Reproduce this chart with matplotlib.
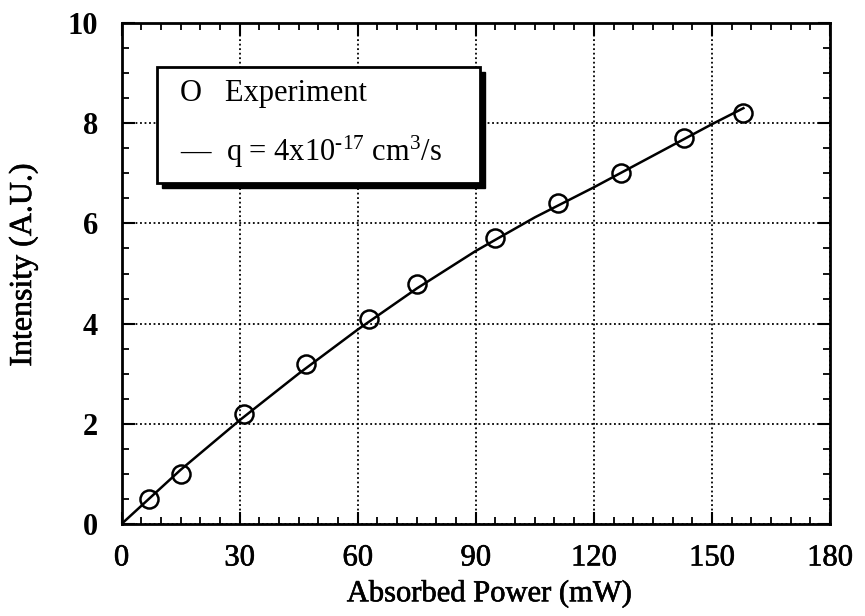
import matplotlib
matplotlib.use("Agg")
import matplotlib.pyplot as plt
import matplotlib.patheffects as pe
from matplotlib.patches import Rectangle

# Experimental data
exp_power = [7, 15, 31, 47, 63, 75, 95, 111, 127, 143, 158]
exp_intensity = [0.5, 1.0, 2.2, 3.2, 4.1, 4.8, 5.7, 6.4, 7.0, 7.7, 8.2]

# Model curve
fit_power = [0, 15, 30, 45, 60, 75, 90, 105, 120, 135, 150, 158]
fit_intensity = [0, 1.08, 2.07, 3.0, 3.88, 4.7, 5.45, 6.12, 6.72, 7.35, 7.98, 8.3]

xticks = [0, 30, 60, 90, 120, 150, 180]
yticks = [0, 2, 4, 6, 8, 10]

serif = ["Liberation Serif", "DejaVu Serif"]
plt.rcParams["font.family"] = serif
plt.rcParams["mathtext.fontset"] = "custom"
plt.rcParams["mathtext.rm"] = "Liberation Serif"
plt.rcParams["mathtext.it"] = "Liberation Serif:italic"
plt.rcParams["mathtext.bf"] = "Liberation Serif:bold"

heavy = [pe.withStroke(linewidth=0.45, foreground="black")]

fig = plt.figure(figsize=(8.65, 6.16), dpi=100)
aw, ah = (830 - 121.5), 501
ax = fig.add_axes([121.5 / 865, (616 - 524) / 616, aw / 865, ah / 616])

ax.plot(fit_power, fit_intensity, color="black", lw=1.8, zorder=3)
ax.plot(exp_power, exp_intensity, linestyle="none", marker="o", markersize=13,
        markerfacecolor="none", markeredgecolor="black", markeredgewidth=1.8, zorder=4)

ax.set_xlim(0, 180)
ax.set_ylim(0, 10)
ax.set_xticks(xticks)
ax.set_yticks(yticks)
ax.set_xticks(range(0, 181, 5), minor=True)
ax.set_yticks([i * 0.5 for i in range(21)], minor=True)
ax.grid(True, which="major", linestyle=(0, (1, 1.5)), color="black", lw=1.3)

ax.tick_params(which="both", direction="in", top=True, right=True, colors="black")
ax.tick_params(which="major", length=9, width=1.5)
ax.tick_params(which="minor", length=5, width=1.3)
ax.tick_params(axis="x", pad=14)
ax.tick_params(axis="y", pad=17)
for sp in ax.spines.values():
    sp.set_linewidth(2)

for lbl in ax.get_xticklabels():
    lbl.set_fontsize(22)
    lbl.set_path_effects(heavy)
for lbl in ax.get_yticklabels():
    lbl.set_fontsize(22)
    lbl.set_fontweight("bold")

ax.set_xlabel("Absorbed Power (mW)", fontsize=22, path_effects=heavy)
ax.set_ylabel("Intensity (A.U.)", fontsize=23, path_effects=heavy)
ax.xaxis.set_label_coords((489 - 121.5) / aw, -(579 - 524) / ah)
ax.yaxis.set_label_coords(-(121.5 - 38) / aw, (524 - 265) / ah)

# Legend box with shadow (drawn in axes-fraction coordinates)
bx0, by0 = (157 - 121.5) / aw, (524 - 183) / ah
bw, bh = (480 - 157) / aw, (183 - 67) / ah
shadow = Rectangle((bx0 + 5 / aw, by0 - 5 / ah), bw, bh, transform=ax.transAxes,
                   facecolor="black", edgecolor="black", zorder=5)
box = Rectangle((bx0, by0), bw, bh, transform=ax.transAxes,
                facecolor="white", edgecolor="black", lw=2, zorder=6)
ax.add_patch(shadow)
ax.add_patch(box)
ax.text((180 - 121.5) / aw, (524 - 94) / ah, "O   Experiment", transform=ax.transAxes,
        fontsize=22, va="center", ha="left", zorder=7)
ax.text((180 - 121.5) / aw, (524 - 152) / ah,
        "—  q = 4x10$^{\\mathregular{\u201017}}$ cm$^{\\mathregular{3}}$/s",
        transform=ax.transAxes, fontsize=22, va="center",
        ha="left", zorder=7)

fig.savefig("out.png", dpi=100)
